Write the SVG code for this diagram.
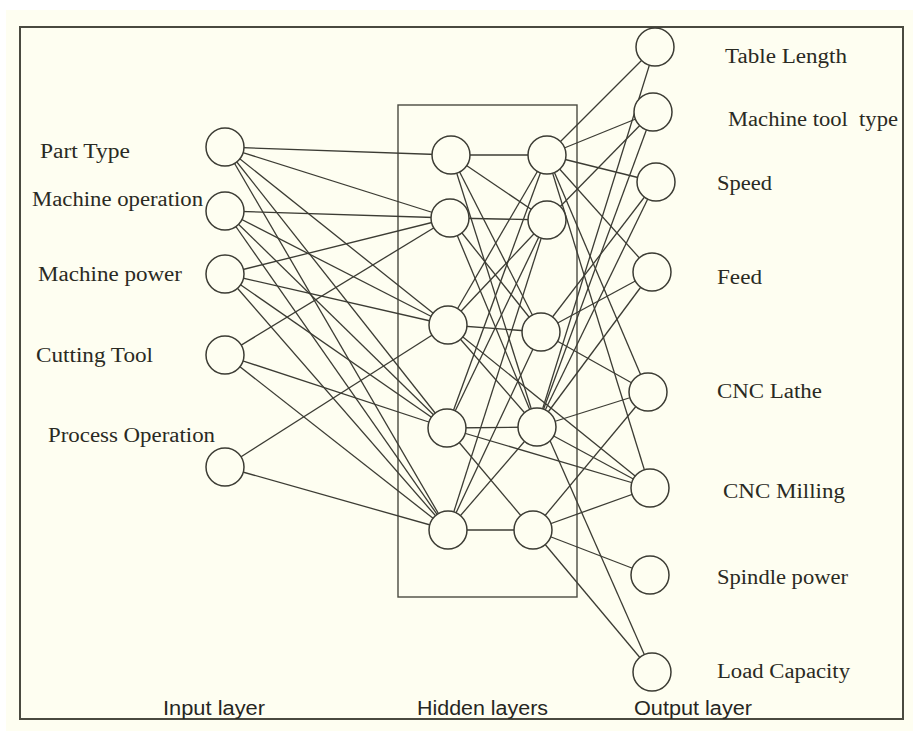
<svg xmlns="http://www.w3.org/2000/svg" width="913" height="731" viewBox="0 0 913 731">
  <style>
    .bg { fill: #fefef1; }
    .frame { fill: none; stroke: #4a4a40; stroke-width: 2; }
    .box { fill: none; stroke: #4a4a40; stroke-width: 1.4; }
    .edge { stroke: #3c3c34; stroke-width: 1.3; fill: none; }
    .node { fill: #fefef1; stroke: #3c3c34; stroke-width: 1.5; }
    .lbl { font-family: "Liberation Serif", "Times New Roman", serif; font-size: 20px; fill: #2a2a23; }
    .cap { font-family: "Liberation Sans", Arial, sans-serif; font-size: 20px; fill: #26261f; }
  </style>

  <!-- page and outer frame -->
  <rect x="0" y="0" width="913" height="731" fill="#ffffff"/>
  <rect class="bg" x="6" y="10" width="907" height="721"/>
  <rect class="frame" x="20" y="27" width="883" height="692"/>

  <!-- box around the hidden layers -->
  <rect class="box" x="398" y="105" width="179" height="492"/>

  <g id="connectors">
    <!-- input layer to first hidden layer -->
    <line class="edge" x1="225" y1="147" x2="451" y2="155"/>
    <line class="edge" x1="225" y1="147" x2="450" y2="218"/>
    <line class="edge" x1="225" y1="147" x2="448" y2="325"/>
    <line class="edge" x1="225" y1="147" x2="447" y2="428"/>
    <line class="edge" x1="225" y1="147" x2="448" y2="530"/>
    <line class="edge" x1="225" y1="211" x2="450" y2="218"/>
    <line class="edge" x1="225" y1="211" x2="448" y2="325"/>
    <line class="edge" x1="225" y1="211" x2="447" y2="428"/>
    <line class="edge" x1="225" y1="211" x2="448" y2="530"/>
    <line class="edge" x1="225" y1="274" x2="450" y2="218"/>
    <line class="edge" x1="225" y1="274" x2="448" y2="325"/>
    <line class="edge" x1="225" y1="274" x2="447" y2="428"/>
    <line class="edge" x1="225" y1="274" x2="448" y2="530"/>
    <line class="edge" x1="225" y1="355" x2="450" y2="218"/>
    <line class="edge" x1="225" y1="355" x2="447" y2="428"/>
    <line class="edge" x1="225" y1="355" x2="448" y2="530"/>
    <line class="edge" x1="225" y1="467" x2="448" y2="325"/>
    <line class="edge" x1="225" y1="467" x2="448" y2="530"/>

    <!-- first hidden layer to second hidden layer -->
    <line class="edge" x1="451" y1="155" x2="547" y2="155"/>
    <line class="edge" x1="451" y1="155" x2="547" y2="220"/>
    <line class="edge" x1="451" y1="155" x2="541" y2="332"/>
    <line class="edge" x1="451" y1="155" x2="537" y2="427"/>
    <line class="edge" x1="450" y1="218" x2="547" y2="220"/>
    <line class="edge" x1="450" y1="218" x2="541" y2="332"/>
    <line class="edge" x1="450" y1="218" x2="537" y2="427"/>
    <line class="edge" x1="448" y1="325" x2="547" y2="155"/>
    <line class="edge" x1="448" y1="325" x2="547" y2="220"/>
    <line class="edge" x1="448" y1="325" x2="541" y2="332"/>
    <line class="edge" x1="448" y1="325" x2="537" y2="427"/>
    <line class="edge" x1="447" y1="428" x2="547" y2="155"/>
    <line class="edge" x1="447" y1="428" x2="547" y2="220"/>
    <line class="edge" x1="447" y1="428" x2="537" y2="427"/>
    <line class="edge" x1="447" y1="428" x2="533" y2="530"/>
    <line class="edge" x1="448" y1="530" x2="547" y2="220"/>
    <line class="edge" x1="448" y1="530" x2="541" y2="332"/>
    <line class="edge" x1="448" y1="530" x2="537" y2="427"/>
    <line class="edge" x1="448" y1="530" x2="533" y2="530"/>

    <!-- first hidden layer straight to outputs -->
    <line class="edge" x1="448" y1="325" x2="650" y2="488"/>
    <line class="edge" x1="447" y1="428" x2="650" y2="488"/>

    <!-- second hidden layer to output layer -->
    <line class="edge" x1="547" y1="155" x2="655" y2="47"/>
    <line class="edge" x1="547" y1="155" x2="653" y2="112"/>
    <line class="edge" x1="547" y1="155" x2="656" y2="182"/>
    <line class="edge" x1="547" y1="155" x2="652" y2="272"/>
    <line class="edge" x1="547" y1="155" x2="648" y2="392"/>
    <line class="edge" x1="547" y1="155" x2="650" y2="488"/>
    <line class="edge" x1="547" y1="220" x2="653" y2="112"/>
    <line class="edge" x1="541" y1="332" x2="656" y2="182"/>
    <line class="edge" x1="541" y1="332" x2="652" y2="272"/>
    <line class="edge" x1="541" y1="332" x2="648" y2="392"/>
    <line class="edge" x1="537" y1="427" x2="655" y2="47"/>
    <line class="edge" x1="537" y1="427" x2="653" y2="112"/>
    <line class="edge" x1="537" y1="427" x2="656" y2="182"/>
    <line class="edge" x1="537" y1="427" x2="652" y2="272"/>
    <line class="edge" x1="537" y1="427" x2="648" y2="392"/>
    <line class="edge" x1="537" y1="427" x2="650" y2="488"/>
    <line class="edge" x1="544" y1="427" x2="652" y2="672"/>
    <line class="edge" x1="533" y1="530" x2="648" y2="392"/>
    <line class="edge" x1="533" y1="530" x2="650" y2="488"/>
    <line class="edge" x1="533" y1="530" x2="650" y2="575"/>
    <line class="edge" x1="533" y1="530" x2="652" y2="672"/>
  </g>

  <!-- input layer -->
  <g id="in-part-type"><circle class="node" cx="225" cy="147" r="19"/><text class="lbl" x="40" y="158" textLength="90" lengthAdjust="spacingAndGlyphs">Part Type</text></g>
  <g id="in-machine-operation"><circle class="node" cx="225" cy="211" r="19"/><text class="lbl" x="32" y="206" textLength="171" lengthAdjust="spacingAndGlyphs">Machine operation</text></g>
  <g id="in-machine-power"><circle class="node" cx="225" cy="274" r="19"/><text class="lbl" x="38" y="281" textLength="144" lengthAdjust="spacingAndGlyphs">Machine power</text></g>
  <g id="in-cutting-tool"><circle class="node" cx="225" cy="355" r="19"/><text class="lbl" x="36" y="362" textLength="117" lengthAdjust="spacingAndGlyphs">Cutting Tool</text></g>
  <g id="in-process-operation"><circle class="node" cx="225" cy="467" r="19"/><text class="lbl" x="48" y="442" textLength="167" lengthAdjust="spacingAndGlyphs">Process Operation</text></g>

  <!-- first hidden layer -->
  <g id="h1-1"><circle class="node" cx="451" cy="155" r="19"/></g>
  <g id="h1-2"><circle class="node" cx="450" cy="218" r="19"/></g>
  <g id="h1-3"><circle class="node" cx="448" cy="325" r="19"/></g>
  <g id="h1-4"><circle class="node" cx="447" cy="428" r="19"/></g>
  <g id="h1-5"><circle class="node" cx="448" cy="530" r="19"/></g>

  <!-- second hidden layer -->
  <g id="h2-1"><circle class="node" cx="547" cy="155" r="19"/></g>
  <g id="h2-2"><circle class="node" cx="547" cy="220" r="19"/></g>
  <g id="h2-3"><circle class="node" cx="541" cy="332" r="19"/></g>
  <g id="h2-4"><circle class="node" cx="537" cy="427" r="19"/></g>
  <g id="h2-5"><circle class="node" cx="533" cy="530" r="19"/></g>

  <!-- output layer -->
  <g id="out-table-length"><circle class="node" cx="655" cy="47" r="19"/><text class="lbl" x="725" y="63" textLength="122" lengthAdjust="spacingAndGlyphs">Table Length</text></g>
  <g id="out-machine-tool-type"><circle class="node" cx="653" cy="112" r="19"/><text class="lbl" x="728" y="126" textLength="170" lengthAdjust="spacingAndGlyphs" xml:space="preserve">Machine tool  type</text></g>
  <g id="out-speed"><circle class="node" cx="656" cy="182" r="19"/><text class="lbl" x="717" y="190" textLength="55" lengthAdjust="spacingAndGlyphs">Speed</text></g>
  <g id="out-feed"><circle class="node" cx="652" cy="272" r="19"/><text class="lbl" x="717" y="284" textLength="45" lengthAdjust="spacingAndGlyphs">Feed</text></g>
  <g id="out-cnc-lathe"><circle class="node" cx="648" cy="392" r="19"/><text class="lbl" x="717" y="398" textLength="105" lengthAdjust="spacingAndGlyphs">CNC Lathe</text></g>
  <g id="out-cnc-milling"><circle class="node" cx="650" cy="488" r="19"/><text class="lbl" x="723" y="498" textLength="122" lengthAdjust="spacingAndGlyphs">CNC Milling</text></g>
  <g id="out-spindle-power"><circle class="node" cx="650" cy="575" r="19"/><text class="lbl" x="717" y="584" textLength="131" lengthAdjust="spacingAndGlyphs">Spindle power</text></g>
  <g id="out-load-capacity"><circle class="node" cx="652" cy="672" r="19"/><text class="lbl" x="717" y="678" textLength="133" lengthAdjust="spacingAndGlyphs">Load Capacity</text></g>

  <!-- layer captions -->
  <g id="captions">
    <text class="cap" x="163" y="715" textLength="102" lengthAdjust="spacingAndGlyphs">Input layer</text>
    <text class="cap" x="417" y="715" textLength="131" lengthAdjust="spacingAndGlyphs">Hidden layers</text>
    <text class="cap" x="634" y="715" textLength="118" lengthAdjust="spacingAndGlyphs">Output layer</text>
  </g>
</svg>
